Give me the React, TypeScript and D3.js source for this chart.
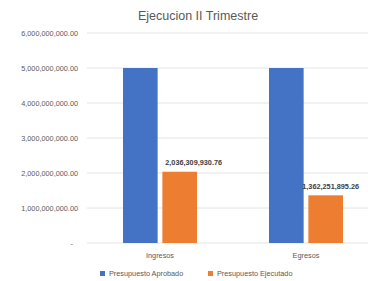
import React from 'react';
import * as d3 from 'd3';

const categories = ['Ingresos', 'Egresos'];
const series = ['Presupuesto Aprobado', 'Presupuesto Ejecutado'];
const aprobado = [5000000000, 5000000000];
const ejecutado = [2036309930.76, 1362251895.26];
const yTicks = [0, 1000000000, 2000000000, 3000000000, 4000000000, 5000000000, 6000000000];
const colors = ['#4472C4', '#ED7D31'];
// labels were nudged by hand in the original
const labelShift = [14, 5];

const W = 368;
const H = 281;

const fmt = (v: number) => (v === 0 ? '-' : d3.format(',.2f')(v));

const App = () => {
  const x = d3.scaleBand().domain(categories).range([87, 379]).paddingInner(0).paddingOuter(0);
  const y = d3.scaleLinear().domain([0, 6000000000]).range([243, 33]);
  const xs = d3.scaleBand().domain(series).range([36, 110]).paddingInner(0.12).paddingOuter(0);
  const values = [aprobado, ejecutado];
  const font = '"Liberation Sans", Arial, sans-serif';

  return (
    <svg width={W} height={H} style={{ position: 'absolute', left: 0, top: 0, background: '#fff' }} fontFamily={font}>
      <text x={198} y={20} textAnchor="middle" fontSize={12.5} fill="#595959">Ejecucion II Trimestre</text>
      {yTicks.map(t => (
        <g key={t}>
          <line x1={87} x2={368} y1={y(t)} y2={y(t)} stroke="#e4e4e4" strokeWidth={1} />
          <text x={t === 0 ? 73 : 78} y={y(t) + 2.5} textAnchor="end" fontSize={7.3} fill="#595959">{fmt(t)}</text>
        </g>
      ))}
      {categories.map((c, ci) => (
        <g key={c}>
          {series.map((s, si) => {
            const v = values[si][ci];
            const bx = (x(c) as number) + (xs(s) as number);
            return (
              <rect key={s} x={bx} y={y(v)} width={xs.bandwidth()} height={y(0) - y(v)} fill={colors[si]} />
            );
          })}
          <text x={(x(c) as number) + 73} y={258} textAnchor="middle" fontSize={7.3} fill="#595959">{c}</text>
        </g>
      ))}
      {categories.map((c, ci) => {
        const v = ejecutado[ci];
        const cx = (x(c) as number) + (xs(series[1]) as number) + xs.bandwidth() / 2;
        return (
          <text key={c} x={cx + labelShift[ci]} y={y(v) - 6.5} textAnchor="middle" fontSize={7.3} fontWeight="bold" fill="#404040">{fmt(v)}</text>
        );
      })}
      {series.map((s, si) => {
        const lx = si === 0 ? 100 : 208;
        return (
          <g key={s}>
            <rect x={lx} y={271} width={5} height={5} fill={colors[si]} />
            <text x={lx + 9} y={276} fontSize={7.3} fill="#595959">{s}</text>
          </g>
        );
      })}
    </svg>
  );
};

export default App;
